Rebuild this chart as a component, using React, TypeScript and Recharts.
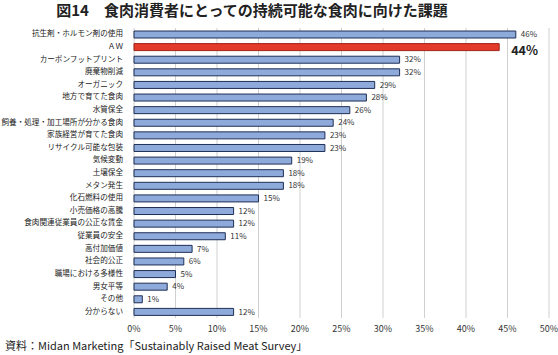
import { BarChart, Bar, XAxis, YAxis, CartesianGrid, Cell, LabelList } from "recharts";

const categories = [
  "抗生剤・ホルモン剤の使用",
  "ＡＷ",
  "カーボンフットプリント",
  "廃棄物削減",
  "オーガニック",
  "地方で育てた食肉",
  "水質保全",
  "飼養・処理・加工場所が分かる食肉",
  "家族経営が育てた食肉",
  "リサイクル可能な包装",
  "気候変動",
  "土壌保全",
  "メタン発生",
  "化石燃料の使用",
  "小売価格の高騰",
  "食肉関連従業員の公正な賃金",
  "従業員の安全",
  "高付加価値",
  "社会的公正",
  "職場における多様性",
  "男女平等",
  "その他",
  "分からない",
];
const values = [46, 44, 32, 32, 29, 28, 26, 24, 23, 23, 19, 18, 18, 15, 12, 12, 11, 7, 6, 5, 4, 1, 12];
const highlight = "ＡＷ";
const xTicks = [0, 5, 10, 15, 20, 25, 30, 35, 40, 45, 50];

const data = categories.map((name, i) => ({ name, value: values[i] }));

const FONT = '"Noto Sans CJK JP", "Noto Sans", sans-serif';

const renderLabel = (props: any) => {
  const { x, y, width, height, value, index } = props;
  const big = categories[index] === highlight;
  if (big) {
    return (
      <text x={x + width + 12} y={y + height / 2 + 5} fontSize={12.5} fontWeight="bold" fill="#222" fontFamily={FONT} dominantBaseline="middle">
        {value}%
      </text>
    );
  }
  return (
    <text x={x + width + 5} y={y + height / 2 + 0.5} fontSize={8} fill="#333" fontFamily={FONT} dominantBaseline="middle">
      {value}%
    </text>
  );
};

const renderCategoryTick = (props: any) => {
  const { x, y, payload } = props;
  return (
    <text x={x} y={y} textAnchor="end" dominantBaseline="middle" fontSize={7.6} fill="#222" fontFamily={FONT}>
      {payload.value}
    </text>
  );
};

export default function App() {
  return (
    <div style={{ position: "absolute", left: 0, top: 0, width: 558, height: 355, background: "#fff", fontFamily: FONT }}>
      <div style={{ position: "absolute", left: 0, top: 0, width: 504, textAlign: "center", fontSize: 15, fontWeight: "bold", color: "#222", lineHeight: "20px" }}>
        図14　食肉消費者にとっての持続可能な食肉に向けた課題
      </div>
      <BarChart
        width={558}
        height={355}
        data={data}
        layout="vertical"
        margin={{ top: 28, right: 9, bottom: 17, left: 0 }}
        barSize={7}
      >
        <CartesianGrid horizontal={false} stroke="#d0d0d0" />
        <XAxis
          type="number"
          domain={[0, 50]}
          ticks={xTicks}
          tickFormatter={(v) => `${v}%`}
          axisLine={false}
          tickLine={false}
          height={20}
          tick={{ fontSize: 9, fill: "#333", fontFamily: FONT }}
          tickMargin={2}
        />
        <YAxis
          type="category"
          dataKey="name"
          width={134}
          axisLine={false}
          tickLine={false}
          interval={0}
          tick={renderCategoryTick}
          tickMargin={5}
        />
        <Bar dataKey="value" isAnimationActive={false} stroke="#1f2f55" strokeWidth={1}>
          {data.map((d, i) => (
            <Cell
              key={`cell-${i}`}
              fill={d.name === highlight ? "#e43a2c" : "#8eaadb"}
              stroke={d.name === highlight ? "#a02418" : "#1f2f55"}
            />
          ))}
          <LabelList dataKey="value" content={renderLabel} />
        </Bar>
      </BarChart>
      <div style={{ position: "absolute", left: 5, top: 337, fontSize: 11, color: "#222", whiteSpace: "nowrap" }}>
        資料：Midan Marketing「Sustainably Raised Meat Survey」
      </div>
    </div>
  );
}
